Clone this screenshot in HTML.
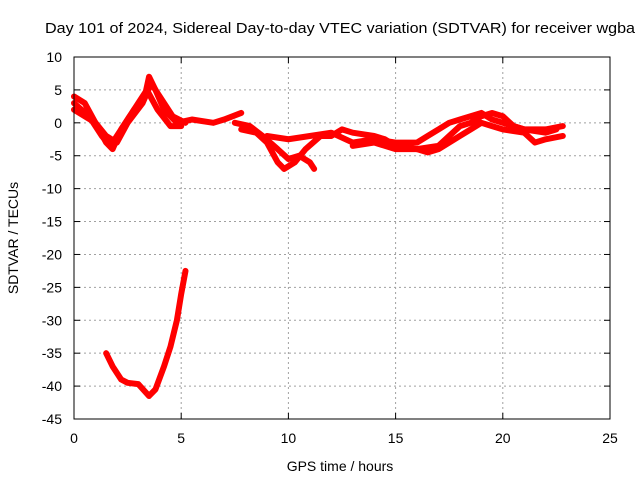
<!DOCTYPE html>
<html><head><meta charset="utf-8"><style>
body{margin:0;background:#fff}
svg{display:block;font-family:"Liberation Sans",sans-serif}
</style></head><body>
<svg id="chart" width="640" height="480">
<rect width="640" height="480" fill="#fff"/>
<text x="340" y="33" font-size="15" text-anchor="middle" textLength="590" lengthAdjust="spacingAndGlyphs">Day 101 of 2024, Sidereal Day-to-day VTEC variation (SDTVAR) for receiver wgba</text>
<text x="340" y="471" font-size="14" text-anchor="middle">GPS time / hours</text>
<text x="0" y="0" font-size="14" text-anchor="middle" transform="translate(18,238) rotate(-90)">SDTVAR / TECUs</text>
<g id="grid"></g><g id="ticks"></g><g id="series"></g>
<rect x="74" y="57" width="536" height="362" fill="none" stroke="#000" stroke-width="1"/>
</svg>
<script>
const xTicks=[0,5,10,15,20,25];
const yTicks=[10,5,0,-5,-10,-15,-20,-25,-30,-35,-40,-45];
const trackA=[[0,4],[0.5,3],[1,0],[1.5,-3],[1.8,-4],[2.2,-1],[2.8,2],[3.3,4],[3.5,7],[3.8,5],[4.2,2],[4.8,0],[5.5,0.5],[6.5,0],[7,0.5],[7.8,1.5]];
const trackB=[[0,3],[0.7,1],[1.3,-2],[1.7,-3.5],[2.2,-1],[3,3],[3.4,5],[3.9,2],[4.5,-0.5],[5,-0.5]];
const trackC=[[0,2],[1,0],[1.5,-2],[2,-3],[2.5,0],[3.2,3],[3.6,6],[4,4],[4.6,1],[5.2,0]];
const trackD=[[7.5,0],[8.2,-0.5],[8.8,-2],[9.5,-4],[10,-5.5],[10.5,-5],[11,-6],[11.2,-7]];
const trackE=[[7.8,-1],[8.5,-1.5],[9,-3],[9.5,-6],[9.8,-7],[10.3,-6],[10.8,-4],[11.5,-2],[12,-2],[12.5,-1],[13,-1.5],[14,-2],[14.5,-2.5],[15,-3.5],[16,-4],[17,-3.5],[17.5,-2],[18,-0.5],[18.5,0],[19,1],[19.5,1.5],[20,1],[20.5,-0.5],[21,-1],[22,-1],[22.8,-0.5]];
const trackF=[[9,-2],[10,-2.5],[11,-2],[12,-1.5],[13,-3],[14,-2.5],[15,-3],[16,-3],[16.5,-2],[17,-1],[17.5,0],[18,0.5],[18.5,1],[19,1.5],[19.5,0.5],[20,0],[21,-1],[22,-1.5],[22.5,-1]];
const trackG=[[13,-3.5],[14,-3],[15,-4],[16,-4],[16.5,-4.5],[17,-4],[17.5,-3],[18,-2],[18.5,-1],[19,0],[19.5,-0.5],[20,-1],[21,-1.5],[21.5,-3],[22,-2.5],[22.8,-2]];
const trackLow=[[1.5,-35],[1.8,-37],[2.2,-39],[2.5,-39.5],[3,-39.7],[3.5,-41.5],[3.8,-40.5],[4.2,-37],[4.5,-34],[4.8,-30],[5,-26],[5.2,-22.5]];
const tracks=[trackA,trackB,trackC,trackD,trackE,trackF,trackG,trackLow];
const X=h=>74+h*536/25, Y=v=>57+(10-v)*362/55;
const NS='http://www.w3.org/2000/svg';
const grid=document.getElementById('grid'),ticks=document.getElementById('ticks'),ser=document.getElementById('series');
function mk(t,a,p){const e=document.createElementNS(NS,t);for(const k in a)e.setAttribute(k,a[k]);p.appendChild(e);return e;}
xTicks.forEach(t=>{const x=X(t);
 if(t>0&&t<25){const g=mk('line',{x1:x,x2:x,y1:57,y2:419,stroke:'#a0a0a0','stroke-dasharray':'2,3'},grid);
 
 }
 const l=mk('text',{x:x,y:443,'font-size':14,'text-anchor':'middle'},ticks);l.textContent=t;
 
 
 mk('line',{x1:x,x2:x,y1:419,y2:413,stroke:'#000'},ticks);mk('line',{x1:x,x2:x,y1:57,y2:63,stroke:'#000'},ticks);});
yTicks.forEach(t=>{const y=Y(t);
 if(t<10&&t>-45){const g=mk('line',{x1:74,x2:610,y1:y,y2:y,stroke:'#a0a0a0','stroke-dasharray':'2,3'},grid);
 
 }
 const l=mk('text',{x:62,y:y+5,'font-size':14,'text-anchor':'end'},ticks);l.textContent=t;
 
 
 mk('line',{x1:74,x2:80,y1:y,y2:y,stroke:'#000'},ticks);mk('line',{x1:610,x2:604,y1:y,y2:y,stroke:'#000'},ticks);});
tracks.forEach(tr=>{const p=mk('polyline',{points:tr.map(d=>X(d[0])+','+Y(d[1])).join(' '),fill:'none',stroke:'#f00','stroke-width':6,'stroke-linejoin':'round','stroke-linecap':'round'},ser);
 
 });
</script>
</body></html>
